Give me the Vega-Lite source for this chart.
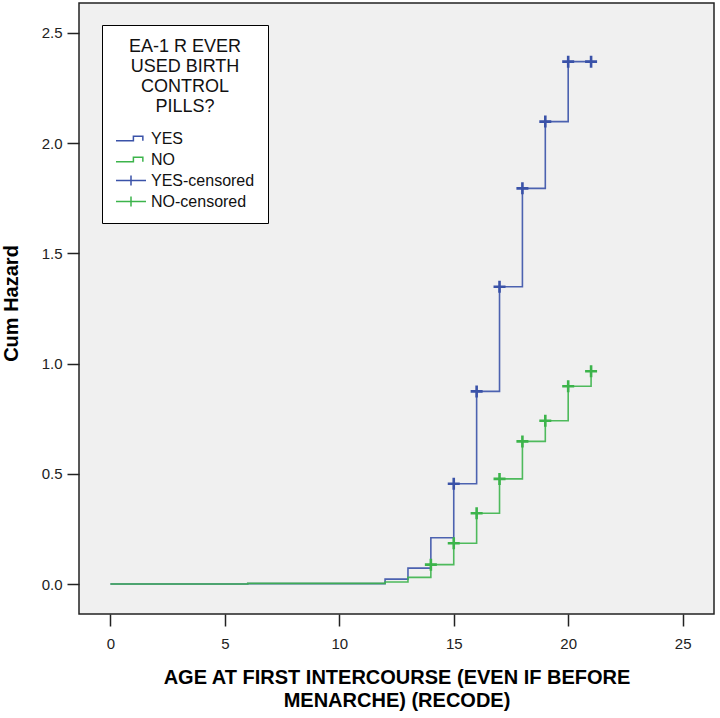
{
  "$schema": "https://vega.github.io/schema/vega-lite/v6.json",
  "width": 635,
  "height": 611,
  "autosize": {"type": "none"},
  "padding": {"left": 79, "top": 3, "right": 6, "bottom": 104},
  "background": "#ffffff",
  "config": {
    "font": "Liberation Sans",
    "view": {"fill": "#f0f0f0", "stroke": "#222222", "strokeWidth": 1.5},
    "axis": {
      "grid": false,
      "domain": false,
      "tickColor": "#222222",
      "tickWidth": 1.5,
      "tickSize": 12,
      "labelFont": "Liberation Sans",
      "labelFontSize": 15,
      "labelColor": "#222222",
      "titleFont": "Liberation Sans",
      "titleFontSize": 20,
      "titleFontWeight": "bold",
      "titleColor": "#000000"
    }
  },
  "datasets": {
    "steps": [
      {"age": 0, "hazard": 0, "grp": "YES"},
      {"age": 6, "hazard": 0.002, "grp": "YES"},
      {"age": 12, "hazard": 0.022, "grp": "YES"},
      {"age": 13, "hazard": 0.072, "grp": "YES"},
      {"age": 14, "hazard": 0.21, "grp": "YES"},
      {"age": 15, "hazard": 0.455, "grp": "YES"},
      {"age": 16, "hazard": 0.874, "grp": "YES"},
      {"age": 17, "hazard": 1.349, "grp": "YES"},
      {"age": 18, "hazard": 1.795, "grp": "YES"},
      {"age": 19, "hazard": 2.098, "grp": "YES"},
      {"age": 20, "hazard": 2.37, "grp": "YES"},
      {"age": 21, "hazard": 2.37, "grp": "YES"},
      {"age": 0, "hazard": 0, "grp": "NO"},
      {"age": 6, "hazard": 0.003, "grp": "NO"},
      {"age": 12, "hazard": 0.009, "grp": "NO"},
      {"age": 13, "hazard": 0.03, "grp": "NO"},
      {"age": 14, "hazard": 0.088, "grp": "NO"},
      {"age": 15, "hazard": 0.185, "grp": "NO"},
      {"age": 16, "hazard": 0.321, "grp": "NO"},
      {"age": 17, "hazard": 0.477, "grp": "NO"},
      {"age": 18, "hazard": 0.647, "grp": "NO"},
      {"age": 19, "hazard": 0.741, "grp": "NO"},
      {"age": 20, "hazard": 0.897, "grp": "NO"},
      {"age": 21, "hazard": 0.965, "grp": "NO"}
    ],
    "cens": [
      {"age": 15, "hazard": 0.455, "grp": "YES-censored"},
      {"age": 16, "hazard": 0.874, "grp": "YES-censored"},
      {"age": 17, "hazard": 1.349, "grp": "YES-censored"},
      {"age": 18, "hazard": 1.795, "grp": "YES-censored"},
      {"age": 19, "hazard": 2.098, "grp": "YES-censored"},
      {"age": 20, "hazard": 2.37, "grp": "YES-censored"},
      {"age": 21, "hazard": 2.37, "grp": "YES-censored"},
      {"age": 14, "hazard": 0.088, "grp": "NO-censored"},
      {"age": 15, "hazard": 0.185, "grp": "NO-censored"},
      {"age": 16, "hazard": 0.321, "grp": "NO-censored"},
      {"age": 17, "hazard": 0.477, "grp": "NO-censored"},
      {"age": 18, "hazard": 0.647, "grp": "NO-censored"},
      {"age": 19, "hazard": 0.741, "grp": "NO-censored"},
      {"age": 20, "hazard": 0.897, "grp": "NO-censored"},
      {"age": 21, "hazard": 0.965, "grp": "NO-censored"}
    ]
  },
  "encoding": {
    "x": {
      "field": "age",
      "type": "quantitative",
      "scale": {"domain": [-1.372, 26.37], "nice": false, "zero": false},
      "axis": {
        "values": [0, 5, 10, 15, 20, 25],
        "labelPadding": 10,
        "title": ["AGE AT FIRST INTERCOURSE (EVEN IF BEFORE", "MENARCHE) (RECODE)"],
        "titleLineHeight": 23.5,
        "titlePadding": 16
      }
    },
    "y": {
      "field": "hazard",
      "type": "quantitative",
      "scale": {"domain": [-0.136, 2.636], "nice": false, "zero": false},
      "axis": {
        "values": [0, 0.5, 1, 1.5, 2, 2.5],
        "format": ".1f",
        "labelPadding": 5,
        "title": "Cum Hazard",
        "titlePadding": 20,
        "titleY": 300
      }
    },
    "color": {
      "field": "grp",
      "type": "nominal",
      "scale": {
        "domain": ["YES", "NO", "YES-censored", "NO-censored"],
        "range": ["#3a52a8", "#3cb44b", "#3a52a8", "#3cb44b"]
      },
      "legend": {
        "title": ["EA-1 R EVER", "USED BIRTH", "CONTROL", "PILLS?"],
        "orient": "none",
        "legendX": 23,
        "legendY": 22,
        "fillColor": "#ffffff",
        "strokeColor": "#000000",
        "padding": 13,
        "titleFont": "Liberation Sans",
        "titleFontSize": 18,
        "titleFontWeight": "normal",
        "titleColor": "#111111",
        "titleLineHeight": 20,
        "titleAnchor": "middle",
        "titleAlign": "center",
        "titlePadding": 14,
        "labelFont": "Liberation Sans",
        "labelFontSize": 16,
        "labelColor": "#111111",
        "labelOffset": 19,
        "symbolSize": 225,
        "symbolStrokeWidth": 1.5,
        "symbolFillColor": "transparent",
        "symbolOpacity": 1,
        "symbolType": {"expr": "(datum.value === 'YES' || datum.value === 'NO') ? 'M-1,0.31H1.32V-0.31H2.58V0.31' : 'M-1,0H3M1,-0.67V0.67'"},
        "rowPadding": 4
      }
    }
  },
  "layer": [
    {
      "data": {"name": "steps"},
      "mark": {"type": "line", "interpolate": "step-after", "strokeWidth": 1.6, "opacity": 0.9}
    },
    {
      "data": {"name": "cens"},
      "mark": {"type": "point", "shape": "M-1,0H1M0,-1V1", "filled": false, "size": 144, "strokeWidth": 2.6, "opacity": 1}
    }
  ]
}
